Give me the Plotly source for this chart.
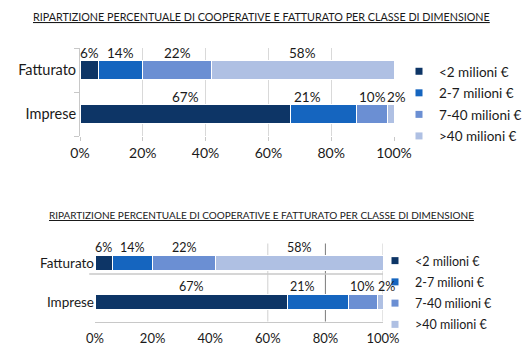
import plotly.graph_objects as go

# ---- data ----
categories = ["Imprese", "Fatturato"]          # bottom -> top
series_names = ["<2 milioni €", "2-7 milioni €", "7-40 milioni €", ">40 milioni €"]
fatturato = [6, 14, 22, 58]
imprese = [67, 21, 10, 2]
tick_values = [0, 20, 40, 60, 80, 100]
tick_labels = ["0%", "20%", "40%", "60%", "80%", "100%"]
title_text = "RIPARTIZIONE PERCENTUALE DI COOPERATIVE E FATTURATO PER CLASSE DI DIMENSIONE"

colors = ["#0D3566", "#1565BF", "#6B8FD3", "#AFC0E3"]
FONT = "Lato, Carlito, Calibri, sans-serif"
W, H = 530, 359

values = {"Fatturato": fatturato, "Imprese": imprese}
label_xshift = {("Imprese", 1): -16, ("Imprese", 3): 6}

fig = go.Figure()

panels = [
    dict(xa="x", ya="y", width=0.43, legend="legend", yshift=17, fs=13.5),
    dict(xa="x2", ya="y2", width=0.36, legend="legend2", yshift=16, fs=12.5),
]

annotations = []
for p in panels:
    for i, name in enumerate(series_names):
        fig.add_trace(go.Bar(
            orientation="h",
            y=categories,
            x=[values[c][i] for c in categories],
            name=name,
            marker=dict(color=colors[i], line=dict(color="white", width=1)),
            width=p["width"],
            xaxis=p["xa"], yaxis=p["ya"],
            showlegend=False,
            legendgroup=p["legend"] + str(i),
            hoverinfo="skip",
        ))
        # legend entry with small square symbol
        fig.add_trace(go.Scatter(
            x=[None], y=[None], mode="markers",
            marker=dict(symbol="square", size=7, color=colors[i]),
            name=name, xaxis=p["xa"], yaxis=p["ya"],
            legend=p["legend"], legendgroup=p["legend"] + str(i),
            showlegend=True,
        ))
    # data labels above each segment
    for c in categories:
        cum = 0
        for i, v in enumerate(values[c]):
            annotations.append(dict(
                x=cum + v / 2, y=c, xref=p["xa"], yref=p["ya"],
                text=f"{v}%", showarrow=False,
                yshift=p["yshift"], xshift=label_xshift.get((c, i), 0),
                font=dict(family=FONT, size=p["fs"], color="#1a1a1a"),
            ))
            cum += v

# titles
annotations.append(dict(x=261 / W, y=1 - 17 / H, xref="paper", yref="paper",
                        xanchor="center", yanchor="middle",
                        text=f"<u>{title_text}</u>", showarrow=False,
                        font=dict(family=FONT, size=10.75, color="#1a1a1a")))
annotations.append(dict(x=261 / W, y=1 - 215 / H, xref="paper", yref="paper",
                        xanchor="center", yanchor="middle",
                        text=f"<u>{title_text}</u>", showarrow=False,
                        font=dict(family=FONT, size=10.0, color="#1a1a1a")))

shapes = []
for xv, col in [(60, "#d0d0d0"), (80, "#7a7a7a"), (100, "#c8c8c8")]:
    shapes.append(dict(type="line", xref="x2", yref="y2 domain", x0=xv, x1=xv,
                       y0=0, y1=1, line=dict(color=col, width=1), layer="below"))
# light line under bottom Fatturato bar
shapes.append(dict(type="line", xref="x2 domain", yref="y2", x0=-0.02, x1=1,
                   ysizemode="pixel", yanchor=1, y0=-11, y1=-11,
                   line=dict(color="#c8c8c8", width=1.5)))

fig.update_layout(
    width=W, height=H,
    margin=dict(l=0, r=0, t=0, b=0, autoexpand=False),
    paper_bgcolor="white", plot_bgcolor="white",
    barmode="stack",
    font=dict(family=FONT, color="#1a1a1a"),
    annotations=annotations,
    shapes=shapes,
    xaxis=dict(domain=[80 / W, 394 / W], anchor="y", range=[0, 100], automargin=False,
               tickvals=tick_values, ticktext=tick_labels,
               showgrid=True, gridcolor="#d9d9d9", zeroline=False, showline=False,
               ticks="outside", ticklen=4, tickcolor="#c8c8c8",
               tickfont=dict(family=FONT, size=14, color="#1a1a1a")),
    yaxis=dict(domain=[1 - 136 / H, 1 - 48 / H], anchor="x", automargin=False,
               categoryorder="array", categoryarray=categories,
               range=[-0.5, 1.5], showline=True, linecolor="#c8c8c8",
               ticks="outside", tickson="boundaries", ticklen=5, tickcolor="#c8c8c8",
               showgrid=False, tickfont=dict(family=FONT, size=14.5, color="#1a1a1a")),
    xaxis2=dict(domain=[95 / W, 383 / W], anchor="y2", range=[0, 100], automargin=False,
                tickvals=tick_values, ticktext=tick_labels,
                showgrid=False, zeroline=False, showline=True, linecolor="#c8c8c8",
                ticks="outside", ticklen=5, tickcolor="rgba(0,0,0,0)",
                tickfont=dict(family=FONT, size=13, color="#1a1a1a")),
    yaxis2=dict(domain=[1 - 321.5 / H, 1 - 243.5 / H], anchor="x2", automargin=False,
                categoryorder="array", categoryarray=categories,
                range=[-0.5, 1.5], showline=False, showgrid=False, ticks="",
                tickfont=dict(family=FONT, size=13.5, color="#1a1a1a")),
    legend=dict(x=399 / W, y=1 - 56 / H, xanchor="left", yanchor="top",
                traceorder="grouped", tracegroupgap=1,
                font=dict(family=FONT, size=13.5, color="#1a1a1a"),
                bgcolor="rgba(0,0,0,0)"),
    legend2=dict(x=375 / W, y=1 - 246 / H, xanchor="left", yanchor="top",
                 traceorder="grouped", tracegroupgap=2,
                 font=dict(family=FONT, size=12.5, color="#1a1a1a"),
                 bgcolor="rgba(0,0,0,0)"),
)

fig.write_html("out.html", config={"displayModeBar": False},
               post_script="document.body.style.margin='0';document.body.style.padding='0';")
